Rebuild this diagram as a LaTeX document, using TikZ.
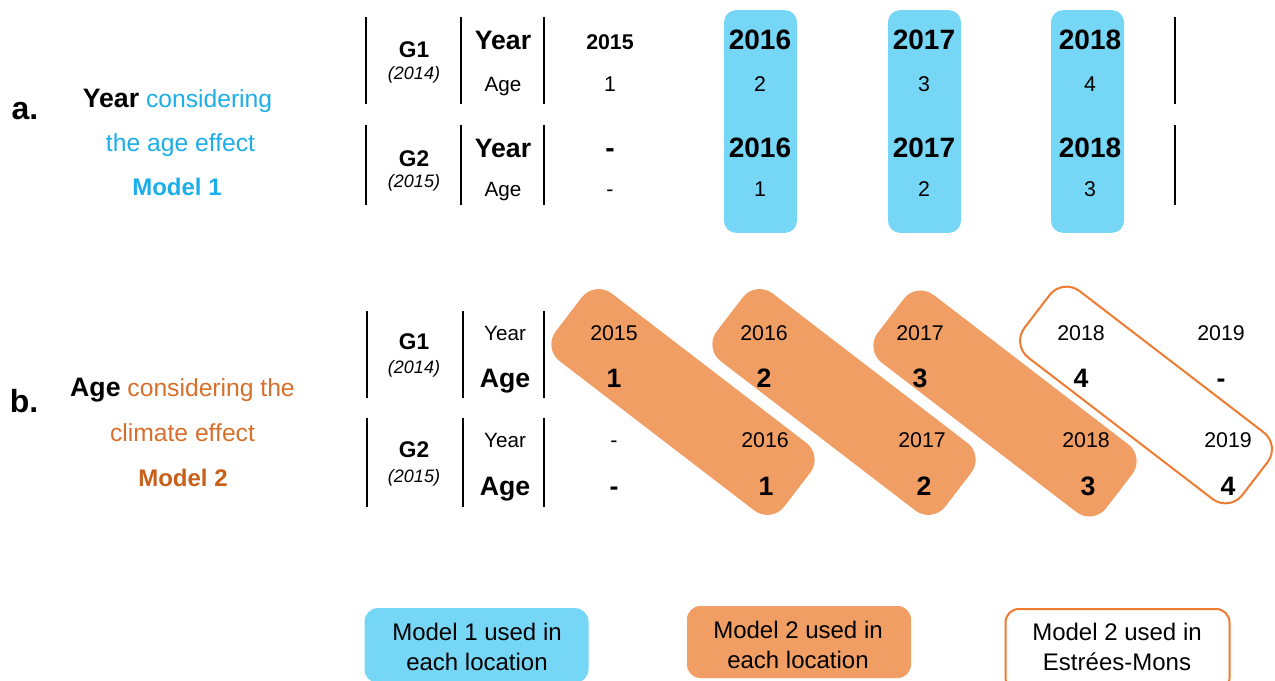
\documentclass[tikz,border=0pt]{standalone}
\usepackage{fontspec}
\setmainfont{Liberation Sans}
\definecolor{blueTxt}{HTML}{1BAEE8}
\definecolor{blueFill}{HTML}{76D6F5}
\definecolor{orangeFill}{HTML}{F19E64}
\definecolor{orangeTxt}{HTML}{D86F2B}
\definecolor{orangeDark}{HTML}{C8601A}
\definecolor{orangeLine}{HTML}{EE7B30}
\begin{document}
\begin{tikzpicture}[x=0.75pt,y=-0.75pt,
  every node/.style={inner sep=0pt},
  lbl/.style={text height=17.2pt, text depth=0pt, font=\fontsize{24}{28}\selectfont\bfseries},
  side/.style={text height=13.2pt, text depth=0pt, font=\fontsize{18.5}{22}\selectfont},
  gname/.style={text height=12.2pt, text depth=0pt, font=\fontsize{17}{20}\selectfont\bfseries},
  gyear/.style={text height=9.7pt, text depth=0pt, font=\fontsize{13.5}{16}\selectfont\itshape},
  hdbig/.style={text height=14.3pt, text depth=0pt, font=\fontsize{20}{24}\selectfont\bfseries},
  hdsm/.style={text height=11.1pt, text depth=0pt, font=\fontsize{15.5}{18}\selectfont},
  cellsm/.style={text height=11.5pt, text depth=0pt, font=\fontsize{16}{19}\selectfont},
  cellsmb/.style={text height=11.5pt, text depth=0pt, font=\fontsize{16}{19}\selectfont\bfseries},
  cellbig/.style={text height=15pt, text depth=0pt, font=\fontsize{21}{25}\selectfont\bfseries},
  cellbb/.style={text height=14.3pt, text depth=0pt, font=\fontsize{20}{24}\selectfont\bfseries},
  legend/.style={font=\fontsize{18}{22.5}\selectfont, align=center},
  vline/.style={line width=1.3pt},
  bluebox/.style={fill=blueFill, rounded corners=9pt, minimum width=54.75pt, minimum height=167pt},
  band/.style={fill=orangeFill, rounded corners=16pt, minimum width=216pt, minimum height=64pt, rotate=-37.5},
  bandout/.style={draw=orangeLine, line width=1.5pt, fill=white, rounded corners=16pt, minimum width=206pt, minimum height=63pt, rotate=-37.5},
  legbox/.style={rounded corners=10pt, minimum width=168pt}
]
\useasboundingbox (0,0) rectangle (1275,681);
\clip (0,0) rectangle (1275,681);

% ---------- section a ----------
\node[lbl] (la) at (25,108) {a.};
\node[side] (la1) at (177.5,99) {{\bfseries\fontsize{20}{24}\selectfont Year} \textcolor{blueTxt}{considering}};
\node[side, text=blueTxt] (la2) at (180.5,143) {the age effect};
\node[side, text=blueTxt, font=\fontsize{18}{22}\selectfont\bfseries] (la3) at (177,187) {Model 1};

\node[bluebox] (ba1) at (760.5,121.5) {};
\node[bluebox] (ba2) at (924.5,121.5) {};
\node[bluebox] (ba3) at (1087.5,121.5) {};

\foreach \x in {366,461,544,1175} {
  \draw[vline] (\x,17) -- (\x,104);
  \draw[vline] (\x,125) -- (\x,205);
}

\node[gname] (ag1) at (414,49) {G1};
\node[gyear] (ag1y) at (414,73) {(2014)};
\node[gname] (ag2) at (414,158) {G2};
\node[gyear] (ag2y) at (414,181) {(2015)};

\node[hdbig] (ay1) at (503,40) {Year};
\node[hdsm] (aa1) at (503,84) {Age};
\node[hdbig] (ay2) at (503,148) {Year};
\node[hdsm] (aa2) at (503,189) {Age};

\node[cellsmb] (a1c1) at (610,42) {2015};
\node[cellsm] (a1d1) at (610,84) {1};
\node[cellbig] (a1c2) at (760,40) {2016};
\node[cellsm] (a1d2) at (760,84) {2};
\node[cellbig] (a1c3) at (924,40) {2017};
\node[cellsm] (a1d3) at (924,84) {3};
\node[cellbig] (a1c4) at (1090,40) {2018};
\node[cellsm] (a1d4) at (1090,84) {4};

\node[cellbig] (a2c1) at (610,148) {-};
\node[cellsm] (a2d1) at (610,189) {-};
\node[cellbig] (a2c2) at (760,148) {2016};
\node[cellsm] (a2d2) at (760,189) {1};
\node[cellbig] (a2c3) at (924,148) {2017};
\node[cellsm] (a2d3) at (924,189) {2};
\node[cellbig] (a2c4) at (1090,148) {2018};
\node[cellsm] (a2d4) at (1090,189) {3};

% ---------- section b ----------
\node[lbl] (lb) at (24,401) {b.};
\node[side] (lb1) at (182.5,388) {{\bfseries\fontsize{20}{24}\selectfont Age} \textcolor{orangeTxt}{considering the}};
\node[side, text=orangeTxt] (lb2) at (182.5,433) {climate effect};
\node[side, text=orangeDark, font=\fontsize{18}{22}\selectfont\bfseries] (lb3) at (183,478) {Model 2};

\node[band] (bd1) at (683,402) {};
\node[band] (bd2) at (844,402) {};
\node[band] (bd3) at (1005,403.5) {};
\node[bandout] (bd4) at (1146,395) {};

\foreach \x in {367,463,544} {
  \draw[vline] (\x,311) -- (\x,398);
  \draw[vline] (\x,418) -- (\x,507);
}

\node[gname] (bg1) at (414,341) {G1};
\node[gyear] (bg1y) at (414,367) {(2014)};
\node[gname] (bg2) at (414,449) {G2};
\node[gyear] (bg2y) at (414,476) {(2015)};

\node[hdsm] (by1) at (505,333) {Year};
\node[hdbig] (bb1) at (505,378) {Age};
\node[hdsm] (by2) at (505,440) {Year};
\node[hdbig] (bb2) at (505,486) {Age};

\node[cellsm] (b1c1) at (614,333) {2015};
\node[cellbb] (b1d1) at (614,378) {1};
\node[cellsm] (b1c2) at (764,333) {2016};
\node[cellbb] (b1d2) at (764,378) {2};
\node[cellsm] (b1c3) at (920,333) {2017};
\node[cellbb] (b1d3) at (920,378) {3};
\node[cellsm] (b1c4) at (1081,333) {2018};
\node[cellbb] (b1d4) at (1081,378) {4};
\node[cellsm] (b1c5) at (1221,333) {2019};
\node[cellbb] (b1d5) at (1221,378) {-};

\node[cellsm] (b2c1) at (614,440) {-};
\node[cellbb] (b2d1) at (614,486) {-};
\node[cellsm] (b2c2) at (765,440) {2016};
\node[cellbb] (b2d2) at (766,486) {1};
\node[cellsm] (b2c3) at (922,440) {2017};
\node[cellbb] (b2d3) at (924,486) {2};
\node[cellsm] (b2c4) at (1086,440) {2018};
\node[cellbb] (b2d4) at (1088,486) {3};
\node[cellsm] (b2c5) at (1228,440) {2019};
\node[cellbb] (b2d5) at (1228,486) {4};

% ---------- legend ----------
\node[legbox, fill=blueFill, minimum height=56pt] (lg1) at (476.5,645.5) {};
\node[legend] (lg1t) at (477,647) {Model 1 used in\\each location};
\node[legbox, fill=orangeFill, minimum height=54pt] (lg2) at (799,642) {};
\node[legend] (lg2t) at (798,645) {Model 2 used in\\each location};
\node[legbox, draw=orangeLine, line width=1.5pt, fill=white, minimum height=61.5pt] (lg3) at (1117.5,650) {};
\node[legend] (lg3t) at (1117,647) {Model 2 used in\\Estrées-Mons};
\end{tikzpicture}
\end{document}
